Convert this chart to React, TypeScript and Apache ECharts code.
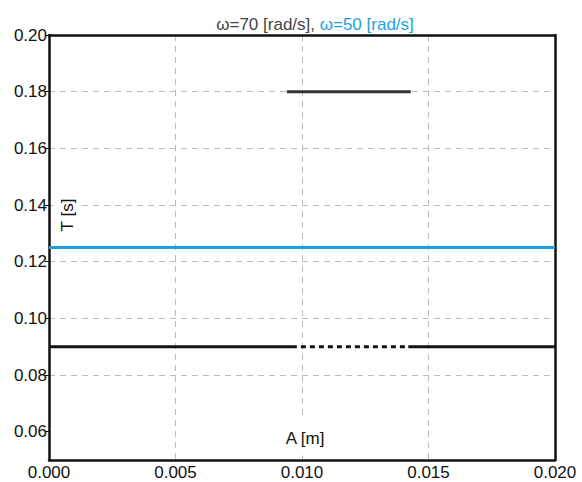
import React, { useEffect, useRef } from "react";
import * as echarts from "echarts";

// Amplitude A [m] on x, period T [s] on y
const xTicks = [0, 0.005, 0.01, 0.015, 0.02];
const yTicks = [0.06, 0.08, 0.1, 0.12, 0.14, 0.16, 0.18, 0.2];
const yRange = [0.05, 0.2];

// omega = 70 rad/s branches
const upperBranch: [number, number][] = [[0.0094, 0.18], [0.0143, 0.18]];
const lowerLeft: [number, number][] = [[0, 0.09], [0.0096, 0.09]];
const lowerDotted: [number, number][] = [[0.0096, 0.09], [0.0142, 0.09]];
const lowerRight: [number, number][] = [[0.0142, 0.09], [0.02, 0.09]];
// omega = 50 rad/s
const blueLine: [number, number][] = [[0, 0.125], [0.02, 0.125]];

const FONT = "Liberation Sans, Arial, sans-serif";
const BLUE = "#1ba1e2";
const FRAME = { show: true, onZero: false, lineStyle: { color: "#111", width: 2.5 } };
const GRID_LINE = { lineStyle: { color: "#bbb", type: [6, 5], width: 1 } };

export default function App() {
  const ref = useRef<HTMLDivElement>(null);
  useEffect(() => {
    const chart = echarts.init(ref.current!, null, { renderer: "svg" });
    const line = (data: [number, number][], color: string, type: any = "solid") => ({
      type: "line",
      data,
      symbol: "none",
      lineStyle: { color, width: 3, type },
      silent: true,
    });
    chart.setOption({
      animation: false,
      textStyle: { fontFamily: FONT },
      title: {
        text: "{a|ω=70 [rad/s], }{b|ω=50 [rad/s]}",
        left: 310,
        textAlign: "center",
        top: 11,
        textStyle: {
          rich: {
            a: { color: "#444", fontSize: 17, fontWeight: "normal", fontFamily: FONT },
            b: { color: BLUE, fontSize: 17, fontWeight: "normal", fontFamily: FONT },
          },
        },
      },
      grid: { left: 49, right: 27, top: 35, bottom: 22 },
      xAxis: [
        {
          type: "value",
          min: xTicks[0],
          max: xTicks[xTicks.length - 1],
          interval: 0.005,
          axisLine: FRAME,
          axisTick: { show: false },
          axisLabel: {
            color: "#111",
            fontSize: 17,
            margin: 4,
            formatter: (v: number) => v.toFixed(3),
          },
          splitLine: { ...GRID_LINE, showMinLine: false, showMaxLine: false },
        },
        {
          type: "value",
          position: "top",
          min: xTicks[0],
          max: xTicks[xTicks.length - 1],
          axisLine: FRAME,
          axisTick: { show: false },
          axisLabel: { show: false },
          splitLine: { show: false },
        },
      ],
      yAxis: [
        {
          type: "value",
          min: yRange[0],
          max: yRange[1],
          axisLine: FRAME,
          axisTick: {
            show: true,
            inside: false,
            length: 4,
            customValues: yTicks,
            lineStyle: { color: "#111" },
          },
          axisLabel: {
            color: "#111",
            fontSize: 17,
            margin: 2,
            customValues: yTicks,
            formatter: (v: number) => v.toFixed(2),
          },
          splitLine: { ...GRID_LINE, showMinLine: false, showMaxLine: false },
        },
        {
          type: "value",
          position: "right",
          min: yRange[0],
          max: yRange[1],
          axisLine: FRAME,
          axisTick: { show: false },
          axisLabel: { show: false },
          splitLine: { show: false },
        },
      ],
      graphic: [
        {
          type: "text",
          x: 305,
          y: 438,
          z: 100,
          style: {
            text: "A [m]",
            fill: "#111",
            font: `17px ${FONT}`,
            align: "center",
            verticalAlign: "middle",
            backgroundColor: "#fff",
            padding: [10, 22, 8, 22],
          },
        },
        {
          type: "text",
          x: 67,
          y: 215,
          z: 100,
          rotation: Math.PI / 2,
          style: {
            text: "T [s]",
            fill: "#111",
            font: `17px ${FONT}`,
            align: "center",
            verticalAlign: "middle",
            backgroundColor: "#fff",
            padding: [5, 3, 5, 3],
          },
        },
      ],
      series: [
        line(blueLine, BLUE),
        line(upperBranch, "#333"),
        line(lowerLeft, "#111"),
        line(lowerDotted, "#111", [5, 4]),
        line(lowerRight, "#111"),
      ],
    });
    return () => chart.dispose();
  }, []);
  return (
    <div
      ref={ref}
      style={{ position: "absolute", left: 0, top: 0, width: 582, height: 482 }}
    />
  );
}
